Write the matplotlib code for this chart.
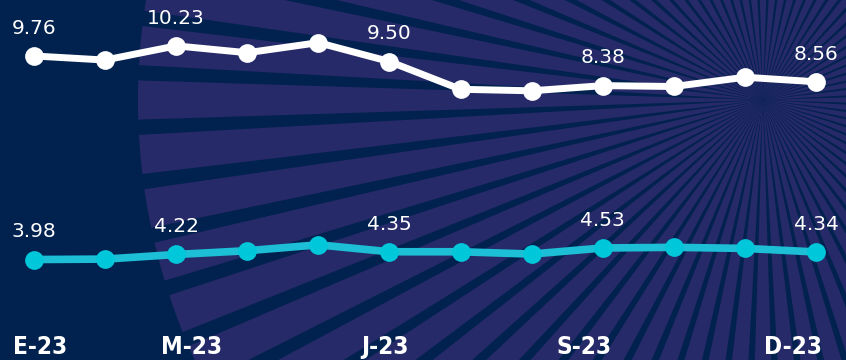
import numpy as np
import matplotlib
matplotlib.use("Agg")
import matplotlib.pyplot as plt
from matplotlib.patches import Wedge
from matplotlib import font_manager as fm
from matplotlib.transforms import blended_transform_factory

# ---- data ---------------------------------------------------------------
months = ["E-23", "F-23", "M-23", "A-23", "M-23", "J-23",
          "J-23", "A-23", "S-23", "O-23", "N-23", "D-23"]
series_top = [9.76, 9.57, 10.23, 9.91, 10.38, 9.50,
              8.21, 8.14, 8.38, 8.34, 8.77, 8.56]
series_bottom = [3.98, 4.00, 4.22, 4.40, 4.68, 4.35,
                 4.35, 4.24, 4.53, 4.56, 4.51, 4.34]
labelled_idx = [0, 2, 5, 8, 11]
tick_text = ["E-23", "M-23", "J-23", "S-23", "D-23"]
tick_pos = [0.08, 2.22, 4.94, 7.74, 10.68]

# ---- style --------------------------------------------------------------
W, H, DPI = 846, 360, 100
BG = "#01214f"
RAY = "#262a68"
WHITE = "#ffffff"
CYAN_LINE = "#1cbfd5"
CYAN_DOT = "#00c8da"

# pick a narrow bold face for the month labels
tick_font = dict(family="DejaVu Sans", fontweight="bold", fontsize=15)
names = {f.name for f in fm.fontManager.ttflist}
narrow = [f for f in fm.fontManager.ttflist
          if f.name in ("DejaVu Sans", "Liberation Sans Narrow", "Open Sans",
                        "Roboto", "Noto Sans")
          and str(f.stretch) in ("condensed", "semi-condensed", "extra-condensed", "75", "87.5")]
if "Liberation Sans Narrow" in names:
    tick_font = dict(family="Liberation Sans Narrow", fontweight="bold", fontsize=19)
elif narrow:
    tick_font = dict(family=narrow[0].name, fontweight="bold",
                     fontstretch="condensed", fontsize=17.5)

fig = plt.figure(figsize=(W / DPI, H / DPI), dpi=DPI)
fig.patch.set_facecolor(BG)

# background sunburst in pixel coordinates
bg = fig.add_axes([0, 0, 1, 1])
bg.set_xlim(0, W)
bg.set_ylim(H, 0)
bg.axis("off")
bg.set_facecolor(BG)
cx, cy, R = 763, 100, 625
step = 5.0
ray_w = 3.6
for k in range(int(360 / step)):
    a = 180 + k * step
    bg.add_patch(Wedge((cx, cy), R, a - ray_w / 2, a + ray_w / 2,
                       facecolor=RAY, edgecolor="none", lw=0))

x = np.arange(len(months))
xlim = (-34 / 71.09, (W - 34) / 71.09)


def series_axes(ylim):
    ax = fig.add_axes([0, 0, 1, 1])
    ax.set_xlim(*xlim)
    ax.set_ylim(*ylim)
    ax.axis("off")
    ax.patch.set_alpha(0)
    return ax


ax_top = series_axes((-4.381, 12.363))
ax_bot = series_axes((-0.805, 16.34))

ax_top.plot(x, series_top, color=WHITE, lw=5, solid_capstyle="round",
            solid_joinstyle="round", zorder=3)
ax_top.plot(x, series_top, ls="none", marker="o", ms=13.5,
            mfc=WHITE, mec="none", zorder=4)

ax_bot.plot(x, series_bottom, color=CYAN_LINE, lw=5.5, solid_capstyle="round",
            solid_joinstyle="round", zorder=3)
ax_bot.plot(x, series_bottom, ls="none", marker="o", ms=13.5,
            mfc=CYAN_DOT, mec="none", zorder=4)

for ax, vals in ((ax_top, series_top), (ax_bot, series_bottom)):
    for i in labelled_idx:
        ax.annotate(f"{vals[i]:.2f}", (x[i], vals[i]), xytext=(0, 16),
                    textcoords="offset points", ha="center", va="baseline",
                    color=WHITE, fontsize=14.5, family="DejaVu Sans", zorder=5)

trans = blended_transform_factory(ax_bot.transData, fig.transFigure)
for pos, txt in zip(tick_pos, tick_text):
    fig.text(pos, 1 - 354 / H, txt, transform=trans, ha="center", va="baseline",
             color=WHITE, **tick_font)

fig.savefig("out.png", dpi=DPI, facecolor=BG)
